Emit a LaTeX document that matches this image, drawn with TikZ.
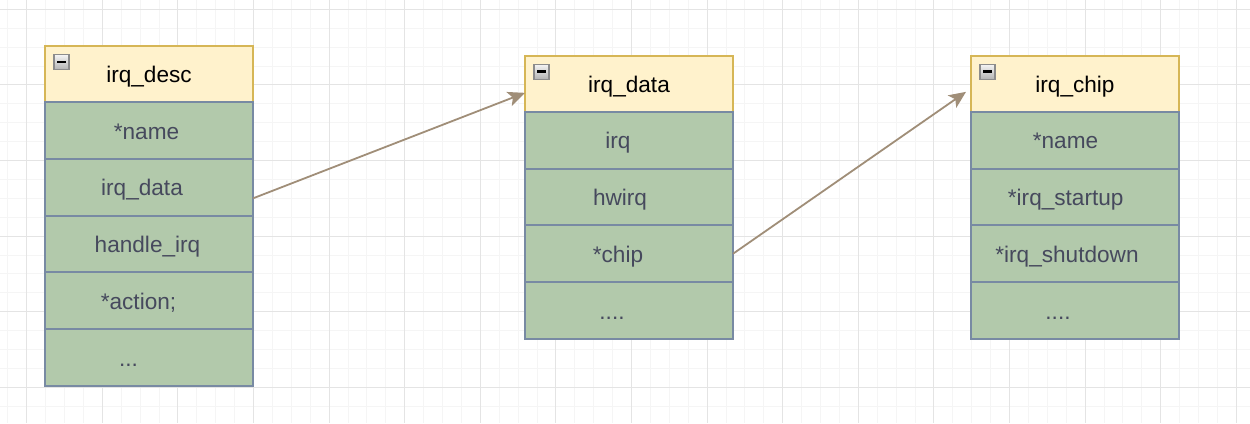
\documentclass[tikz,border=0pt]{standalone}
\usepackage{fontspec}
\setmainfont{Liberation Sans}
\usetikzlibrary{positioning, arrows.meta}
\definecolor{headfill}{HTML}{FFF2CC}
\definecolor{headline}{HTML}{D6B656}
\definecolor{rowfill}{HTML}{B2C9AB}
\definecolor{rowline}{HTML}{788AA3}
\definecolor{rowtext}{HTML}{46495D}
\definecolor{linkcol}{HTML}{A08E78}
\definecolor{gridminor}{HTML}{F5F5F5}
\definecolor{gridmajor}{HTML}{E4E4E4}

\tikzset{
  tblhead/.style={draw=headline, fill=headfill, line width=1.9pt, minimum width=208pt, minimum height=56.3pt,
    outer sep=0pt, inner sep=0pt, text=black, text height=0.92em, text depth=0.16em},
  tblrow/.style={draw=rowline, fill=rowfill, line width=1.9pt, minimum width=208pt, minimum height=56.7pt,
    outer sep=0pt, inner sep=0pt},
  rowlabel/.style={text=rowtext, text height=0.92em, text depth=0.16em, inner sep=0pt},
  foldbox/.style={draw=black!45, top color=black!4, bottom color=black!30, line width=1.2pt,
    minimum size=15pt, inner sep=0pt, outer sep=0pt, anchor=north west},
  link/.style={draw=linkcol, line width=1.8pt, -{Stealth[length=17pt, width=15pt, inset=4pt]}}
}
\newcommand{\foldmark}{\rule[0.2pt]{9pt}{2.6pt}}

\begin{document}
\fontsize{22.6}{27}\selectfont
\begin{tikzpicture}[x=1pt, y=-1pt]
\useasboundingbox (0,0) rectangle (1250,423);
\fill[white] (0,0) rectangle (1250,423);

% Background grid
\foreach \k in {-1,...,64} \draw[gridminor, line width=1pt] ({26.7+18.9*\k},0) -- ({26.7+18.9*\k},423);
\foreach \k in {0,...,21} \draw[gridminor, line width=1pt] (0,{9.3+18.9*\k}) -- (1250,{9.3+18.9*\k});
\foreach \k in {0,...,16} \draw[gridmajor, line width=1pt] ({26.7+75.6*\k},0) -- ({26.7+75.6*\k},423);
\foreach \k in {0,...,5} \draw[gridmajor, line width=1pt] (0,{9.3+75.6*\k}) -- (1250,{9.3+75.6*\k});

% irq_desc
\node[tblhead, anchor=north west] (d0) at (45,46) {irq\_desc};
\node[tblrow, below=0pt of d0, label={[rowlabel, xshift=-2.5pt]center:*name}] (d1) {};
\node[tblrow, below=0pt of d1, label={[rowlabel, xshift=-7pt]center:irq\_data}] (d2) {};
\node[tblrow, below=0pt of d2, label={[rowlabel, xshift=-1.5pt]center:handle\_irq}] (d3) {};
\node[tblrow, below=0pt of d3, label={[rowlabel, xshift=-10.5pt]center:*action;}] (d4) {};
\node[tblrow, below=0pt of d4, label={[rowlabel, xshift=-20.5pt]center:...}] (d5) {};
\node[foldbox] (d0fold) at ([xshift=9pt, yshift=-8.5pt]d0.north west) {\foldmark};

% irq_data
\node[tblhead, anchor=north west] (a0) at (525,55.7) {irq\_data};
\node[tblrow, below=0pt of a0, label={[rowlabel, xshift=-11pt]center:irq}] (a1) {};
\node[tblrow, below=0pt of a1, label={[rowlabel, xshift=-9pt]center:hwirq}] (a2) {};
\node[tblrow, below=0pt of a2, label={[rowlabel, xshift=-11pt]center:*chip}] (a3) {};
\node[tblrow, below=0pt of a3, label={[rowlabel, xshift=-17pt]center:....}] (a4) {};
\node[foldbox] (a0fold) at ([xshift=9pt, yshift=-8.5pt]a0.north west) {\foldmark};

% irq_chip
\node[tblhead, anchor=north west] (c0) at (971,55.7) {irq\_chip};
\node[tblrow, below=0pt of c0, label={[rowlabel, xshift=-9.5pt]center:*name}] (c1) {};
\node[tblrow, below=0pt of c1, label={[rowlabel, xshift=-9.3pt]center:*irq\_startup}] (c2) {};
\node[tblrow, below=0pt of c2, label={[rowlabel, xshift=-8pt]center:*irq\_shutdown}] (c3) {};
\node[tblrow, below=0pt of c3, label={[rowlabel, xshift=-17pt]center:....}] (c4) {};
\node[foldbox] (c0fold) at ([xshift=9pt, yshift=-8.5pt]c0.north west) {\foldmark};

% Pointers
\draw[link] ([yshift=-11pt]d2.east) -- ([yshift=-9pt]a0.west);
\draw[link] (a3.east) -- ([xshift=-5pt, yshift=-8pt]c0.west);

\end{tikzpicture}
\end{document}
